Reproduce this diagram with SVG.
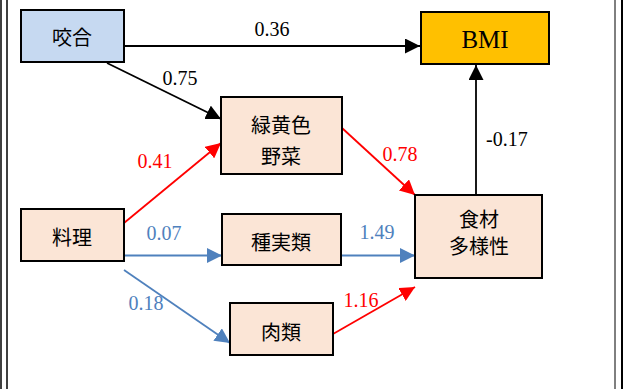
<svg xmlns="http://www.w3.org/2000/svg" width="624" height="389" viewBox="0 0 624 389">
<style>
.node rect{stroke:#000;stroke-width:2}
.pk{fill:#fbe5d6}
.k{stroke:#000;stroke-width:1.8;fill:none}
.r{stroke:#ff0000;stroke-width:1.8;fill:none}
.b{stroke:#4f81bd;stroke-width:1.8;fill:none}
</style>
<defs>
<marker id="ak" viewBox="0 0 10 10" refX="10" refY="5" markerWidth="15" markerHeight="15" markerUnits="userSpaceOnUse" orient="auto"><path d="M0,0L10,5L0,10z" fill="#000"/></marker>
<marker id="ar" viewBox="0 0 10 10" refX="10" refY="5" markerWidth="15" markerHeight="15" markerUnits="userSpaceOnUse" orient="auto"><path d="M0,0L10,5L0,10z" fill="#ff0000"/></marker>
<marker id="ab" viewBox="0 0 10 10" refX="10" refY="5" markerWidth="15" markerHeight="15" markerUnits="userSpaceOnUse" orient="auto"><path d="M0,0L10,5L0,10z" fill="#4f81bd"/></marker>
</defs>
<rect width="624" height="389" fill="#fff"/>
<g id="frame" stroke="#000">
<line x1="1" y1="0" x2="1" y2="389" stroke-width="1.5"/>
<line x1="7" y1="0" x2="7" y2="389" stroke-width="1.5"/>
<line x1="615" y1="0" x2="615" y2="389" stroke-width="1"/>
<line x1="622" y1="0" x2="622" y2="389" stroke-width="2"/>
</g>
<g id="connectors">
<line class="k" x1="124" y1="46" x2="420" y2="46" marker-end="url(#ak)"/>
<line class="k" x1="107" y1="63" x2="221" y2="119" marker-end="url(#ak)"/>
<line class="r" x1="124" y1="223" x2="221" y2="143" marker-end="url(#ar)"/>
<line class="b" x1="124" y1="255.5" x2="222" y2="255.5" marker-end="url(#ab)"/>
<line class="b" x1="124" y1="270" x2="230" y2="343" marker-end="url(#ab)"/>
<line class="r" x1="342" y1="128" x2="415" y2="195" marker-end="url(#ar)"/>
<line class="b" x1="341" y1="255.5" x2="415" y2="255.5" marker-end="url(#ab)"/>
<line class="r" x1="333" y1="334" x2="415" y2="287" marker-end="url(#ar)"/>
<line class="k" x1="476" y1="195" x2="476" y2="65" marker-end="url(#ak)"/>
</g>
<g id="labels" font-family="Liberation Serif, serif" font-size="20" text-anchor="middle">
<text x="272" y="36" fill="#000">0.36</text>
<text x="180" y="85" fill="#000">0.75</text>
<text x="155" y="168" fill="#ff0000">0.41</text>
<text x="164" y="240" fill="#4f81bd">0.07</text>
<text x="146" y="310" fill="#4f81bd">0.18</text>
<text x="400" y="161" fill="#ff0000">0.78</text>
<text x="377" y="239" fill="#4f81bd">1.49</text>
<text x="361" y="307" fill="#ff0000">1.16</text>
<text x="486" y="146" fill="#000" text-anchor="start">-0.17</text>
</g>
<g font-family="Noto Sans CJK JP, Noto Sans, sans-serif" font-size="20" text-anchor="middle" fill="#000">
<g id="n-kougou" class="node"><rect x="21" y="10" width="103" height="52" fill="#c6d9f1"/><text x="72" y="45">咬合</text></g>
<g id="n-bmi" class="node"><rect x="421" y="12" width="128" height="52" fill="#ffc000"/><text x="485" y="48" font-family="Liberation Serif, serif" font-size="25">BMI</text></g>
<g id="n-yasai" class="node"><rect class="pk" x="221" y="97" width="121" height="77"/><text x="281" y="133">緑黄色</text><text x="281" y="164">野菜</text></g>
<g id="n-ryouri" class="node"><rect class="pk" x="21" y="209" width="103" height="52"/><text x="72" y="245">料理</text></g>
<g id="n-shujitsu" class="node"><rect class="pk" x="222" y="214" width="119" height="51"/><text x="281" y="250">種実類</text></g>
<g id="n-niku" class="node"><rect class="pk" x="230" y="303" width="103" height="52"/><text x="281" y="339.5">肉類</text></g>
<g id="n-shokuzai" class="node"><rect class="pk" x="415" y="195" width="127" height="83"/><text x="479" y="226.5">食材</text><text x="479" y="253.5">多様性</text></g>
</g>
</svg>
